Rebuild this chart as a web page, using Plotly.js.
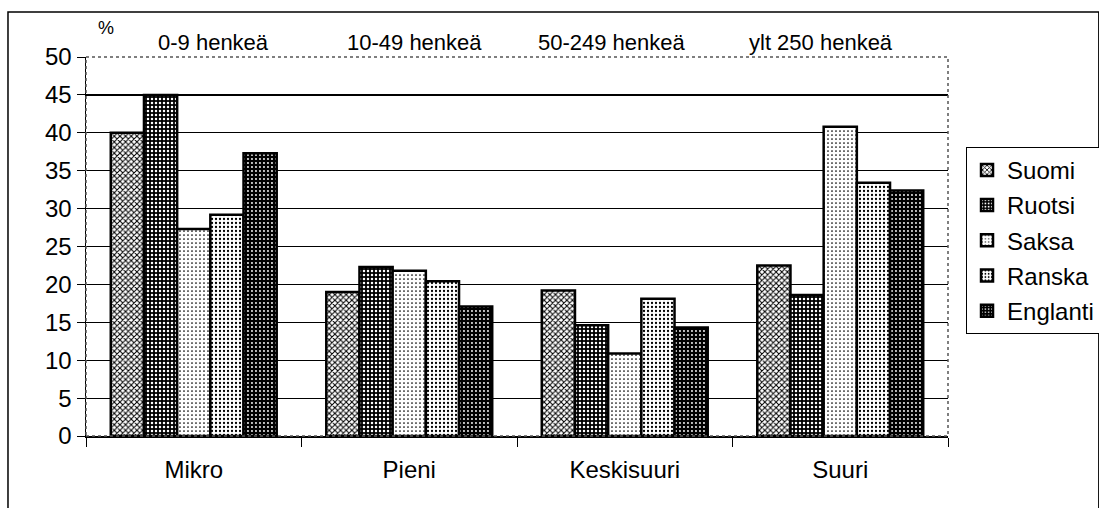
<!DOCTYPE html>
<html><head><meta charset="utf-8">
<script src="https://cdn.plot.ly/plotly-3.0.1.min.js"></script>
<style>html,body{margin:0;padding:0;background:#fff}#c{width:1099px;height:508px}</style>
</head><body><div id="c"></div>
<script>
const categories = ["Mikro", "Pieni", "Keskisuuri", "Suuri"];
const groupLabels = ["0-9 henkeä", "10-49 henkeä", "50-249 henkeä", "ylt 250 henkeä"];
const seriesNames = ["Suomi", "Ruotsi", "Saksa", "Ranska", "Englanti"];
const suomi = [40.0, 19.0, 19.2, 22.5];
const ruotsi = [45.0, 22.3, 14.6, 18.6];
const saksa = [27.3, 21.8, 10.9, 40.8];
const ranska = [29.2, 20.4, 18.1, 33.4];
const englanti = [37.3, 17.1, 14.3, 32.4];
const yTicks = [0, 5, 10, 15, 20, 25, 30, 35, 40, 45, 50];

// label pixel offsets (layout only)
const labelShift = [20, 5, -13, -19];

const values = [suomi, ruotsi, saksa, ranska, englanti];
const fills = [
  {bg: "#ffffff", fg: "#000000", shape: "x", sol: 0.45, size: 4},
  {bg: "#000000", fg: "#ffffff", shape: ".", sol: 0.3, size: 4},
  {bg: "#ffffff", fg: "#000000", shape: ".", sol: 0.15, size: 4},
  {bg: "#ffffff", fg: "#000000", shape: ".", sol: 0.25, size: 4},
  {bg: "#000000", fg: "#ffffff", shape: ".", sol: 0.18, size: 4}
];
const traces = seriesNames.map((n, i) => ({
  type: "bar", name: n, x: categories, y: values[i], legendgroup: n,
  marker: {color: fills[i].bg, line: {color: "#000", width: 2.5},
    pattern: {shape: fills[i].shape, fgcolor: fills[i].fg, bgcolor: fills[i].bg, size: fills[i].size, solidity: fills[i].sol, fillmode: "replace"}}
}));

const annotations = groupLabels.map((t, i) => ({
  x: categories[i], y: 1, xref: "x", yref: "paper", yanchor: "bottom", yshift: 0, xshift: labelShift[i],
  text: t, showarrow: false, font: {size: 22, color: "#000"}
}));
annotations.push({x: 0.012, y: 1.045, xref: "paper", yref: "paper", yanchor: "bottom",
  text: "%", showarrow: false, font: {size: 18, color: "#000"}});

const layout = {
  width: 1099, height: 508,
  margin: {l: 86, r: 151, t: 57, b: 72, autoexpand: false},
  paper_bgcolor: "#fff", plot_bgcolor: "#fff",
  font: {family: "Liberation Sans, Arial, sans-serif", color: "#000"},
  barmode: "group", bargap: 0.23, bargroupgap: 0,
  showlegend: true,
  legend: {xref: "container", yref: "container", x: 0.879, xanchor: "left", y: 0.527, yanchor: "middle",
    bordercolor: "#000", borderwidth: 1, bgcolor: "#fff",
    font: {size: 24, color: "#000"}, traceorder: "grouped", tracegroupgap: 1,
    itemwidth: 30},
  xaxis: {type: "category", showgrid: false, showline: true, linecolor: "#000", linewidth: 1.5,
    ticks: "outside", tickson: "boundaries", ticklen: 9, tickcolor: "#000",
    tickfont: {size: 24}, ticklabelstandoff: 12, automargin: false},
  yaxis: {range: [0, 50], tickvals: yTicks, showgrid: true, gridcolor: "#000", gridwidth: 1.2,
    showline: true, linecolor: "#000", linewidth: 1.5, ticks: "outside", ticklen: 8,
    tickcolor: "#000", tickfont: {size: 24}, zeroline: false, fixedrange: true, automargin: false},
  annotations: annotations,
  shapes: [
    {type: "rect", xref: "paper", yref: "paper", x0: 0, x1: 1, y0: 0, y1: 1,
      line: {color: "#555", width: 1.5, dash: "dot"}, layer: "above"},
    {type: "rect", xref: "paper", yref: "paper", x0: -0.0905, x1: 1.175, y0: -0.3, y1: 1.119,
      line: {color: "#000", width: 1.5}, layer: "below"}
  ]
};
Plotly.newPlot("c", traces, layout, {staticPlot: true});
</script></body></html>
